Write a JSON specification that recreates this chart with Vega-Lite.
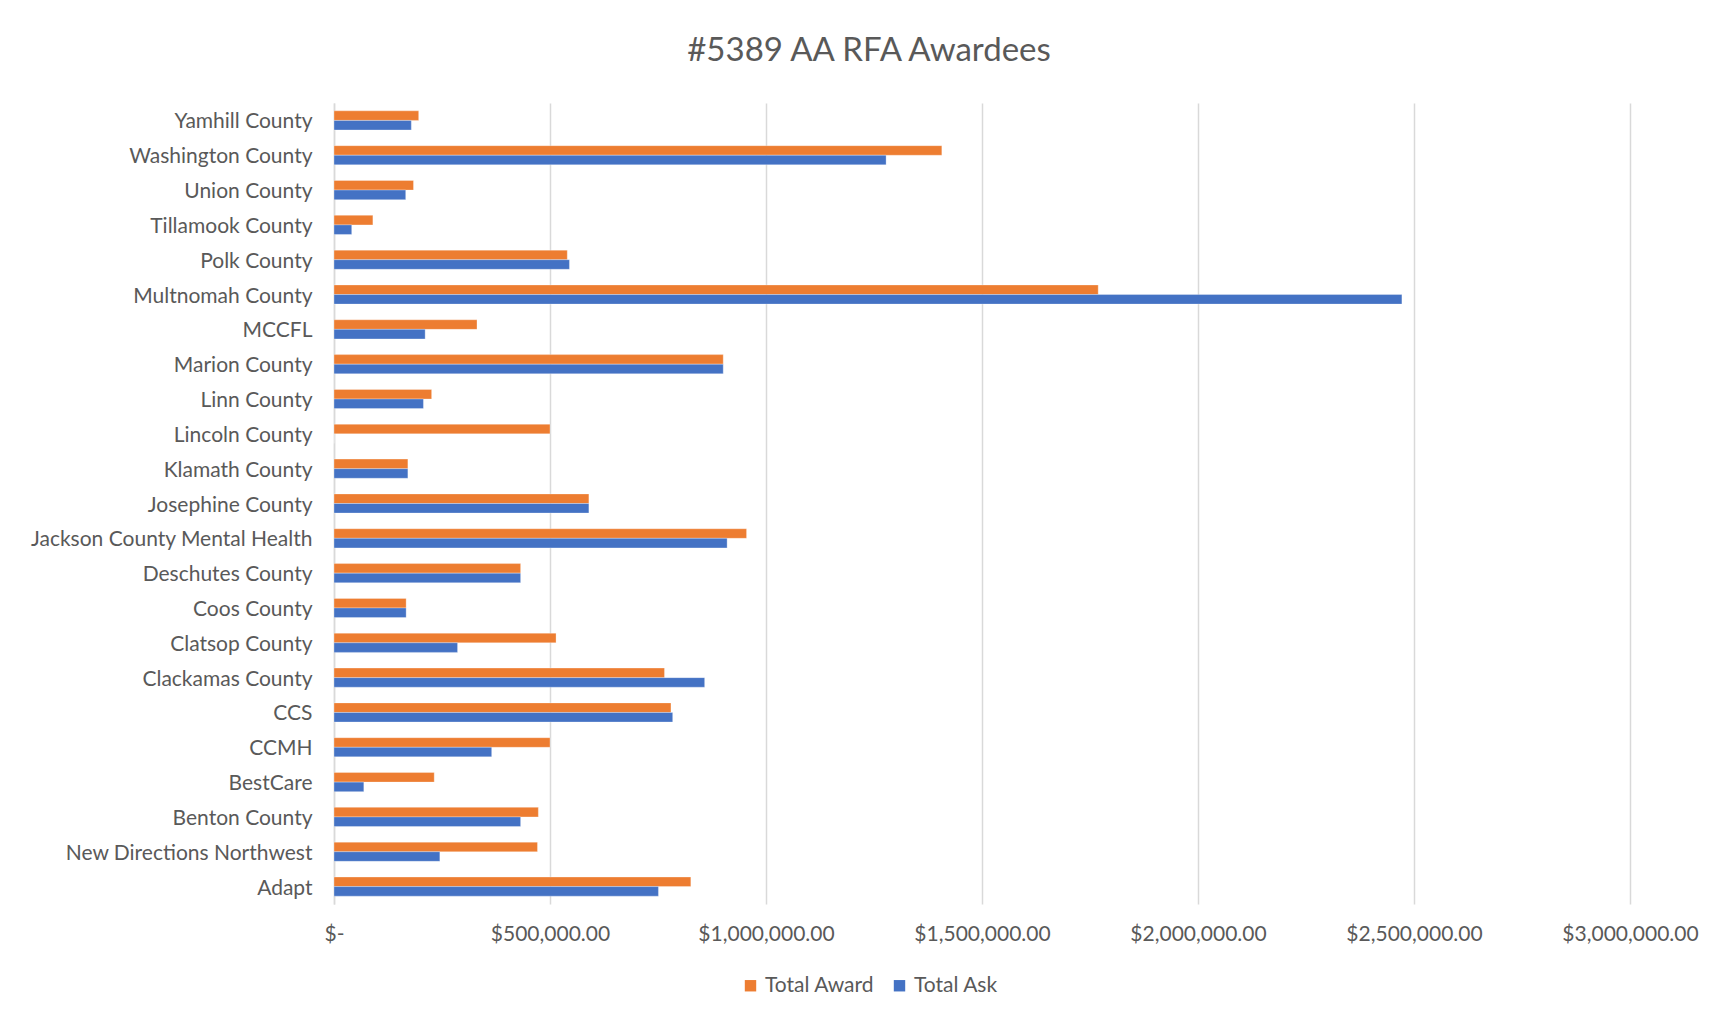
{
  "$schema": "https://vega.github.io/schema/vega-lite/v6.json",
  "width": 1296,
  "height": 801,
  "autosize": {"type": "none"},
  "padding": {"left": 334, "top": 103, "right": 106, "bottom": 116},
  "background": "white",
  "title": {
    "text": "#5389 AA RFA Awardees",
    "font": "Lato",
    "fontSize": 33,
    "fontWeight": "normal",
    "color": "#595959",
    "anchor": "middle",
    "dx": -113,
    "offset": 35
  },
  "data": {
    "values": [
      {"org": "Yamhill County", "series": "Total Award", "amount": 196000},
      {"org": "Yamhill County", "series": "Total Ask", "amount": 179000},
      {"org": "Washington County", "series": "Total Award", "amount": 1407000},
      {"org": "Washington County", "series": "Total Ask", "amount": 1278000},
      {"org": "Union County", "series": "Total Award", "amount": 184000},
      {"org": "Union County", "series": "Total Ask", "amount": 166000},
      {"org": "Tillamook County", "series": "Total Award", "amount": 90000},
      {"org": "Tillamook County", "series": "Total Ask", "amount": 41000},
      {"org": "Polk County", "series": "Total Award", "amount": 540000},
      {"org": "Polk County", "series": "Total Ask", "amount": 545000},
      {"org": "Multnomah County", "series": "Total Award", "amount": 1769000},
      {"org": "Multnomah County", "series": "Total Ask", "amount": 2472000},
      {"org": "MCCFL", "series": "Total Award", "amount": 331000},
      {"org": "MCCFL", "series": "Total Ask", "amount": 211000},
      {"org": "Marion County", "series": "Total Award", "amount": 901000},
      {"org": "Marion County", "series": "Total Ask", "amount": 901000},
      {"org": "Linn County", "series": "Total Award", "amount": 226000},
      {"org": "Linn County", "series": "Total Ask", "amount": 207000},
      {"org": "Lincoln County", "series": "Total Award", "amount": 500000},
      {"org": "Lincoln County", "series": "Total Ask", "amount": 0},
      {"org": "Klamath County", "series": "Total Award", "amount": 171000},
      {"org": "Klamath County", "series": "Total Ask", "amount": 171000},
      {"org": "Josephine County", "series": "Total Award", "amount": 590000},
      {"org": "Josephine County", "series": "Total Ask", "amount": 590000},
      {"org": "Jackson County Mental Health", "series": "Total Award", "amount": 955000},
      {"org": "Jackson County Mental Health", "series": "Total Ask", "amount": 910000},
      {"org": "Deschutes County", "series": "Total Award", "amount": 432000},
      {"org": "Deschutes County", "series": "Total Ask", "amount": 432000},
      {"org": "Coos County", "series": "Total Award", "amount": 167000},
      {"org": "Coos County", "series": "Total Ask", "amount": 167000},
      {"org": "Clatsop County", "series": "Total Award", "amount": 514000},
      {"org": "Clatsop County", "series": "Total Ask", "amount": 286000},
      {"org": "Clackamas County", "series": "Total Award", "amount": 765000},
      {"org": "Clackamas County", "series": "Total Ask", "amount": 858000},
      {"org": "CCS", "series": "Total Award", "amount": 780000},
      {"org": "CCS", "series": "Total Ask", "amount": 784000},
      {"org": "CCMH", "series": "Total Award", "amount": 500000},
      {"org": "CCMH", "series": "Total Ask", "amount": 365000},
      {"org": "BestCare", "series": "Total Award", "amount": 232000},
      {"org": "BestCare", "series": "Total Ask", "amount": 69000},
      {"org": "Benton County", "series": "Total Award", "amount": 473000},
      {"org": "Benton County", "series": "Total Ask", "amount": 432000},
      {"org": "New Directions Northwest", "series": "Total Award", "amount": 471000},
      {"org": "New Directions Northwest", "series": "Total Ask", "amount": 245000},
      {"org": "Adapt", "series": "Total Award", "amount": 826000},
      {"org": "Adapt", "series": "Total Ask", "amount": 751000}
    ]
  },
  "mark": {"type": "bar", "stroke": "white", "strokeWidth": 0.5, "strokeOpacity": 0.6},
  "encoding": {
    "y": {
      "field": "org",
      "type": "nominal",
      "sort": null,
      "scale": {"paddingInner": 0.45, "paddingOuter": 0.225},
      "axis": {
        "title": null,
        "ticks": false,
        "domain": true,
        "domainColor": "#d9d9d9",
        "domainWidth": 1.5,
        "labelFont": "Lato",
        "labelFontSize": 21,
        "labelColor": "#595959",
        "labelPadding": 22,
        "labelOffset": 2,
        "labelLimit": 400
      }
    },
    "yOffset": {
      "field": "series",
      "type": "nominal",
      "sort": ["Total Award", "Total Ask"],
      "scale": {"paddingInner": 0, "paddingOuter": 0}
    },
    "x": {
      "field": "amount",
      "type": "quantitative",
      "scale": {"domain": [0, 3000000]},
      "axis": {
        "title": null,
        "values": [0, 500000, 1000000, 1500000, 2000000, 2500000, 3000000],
        "labelExpr": "datum.value == 0 ? '$-' : '$' + format(datum.value, ',.2f')",
        "labelFlush": false,
        "labelBound": false,
        "labelOverlap": false,
        "ticks": false,
        "domain": false,
        "grid": true,
        "gridColor": "#d9d9d9",
        "gridWidth": 1.5,
        "labelFont": "Lato",
        "labelFontSize": 21,
        "labelColor": "#595959",
        "labelPadding": 19
      }
    },
    "color": {
      "field": "series",
      "type": "nominal",
      "sort": ["Total Award", "Total Ask"],
      "scale": {"domain": ["Total Award", "Total Ask"], "range": ["#ED7D31", "#4472C4"]},
      "legend": {
        "title": null,
        "orient": "none",
        "direction": "horizontal",
        "legendX": 406,
        "legendY": 872,
        "symbolType": "square",
        "symbolSize": 130,
        "symbolStrokeWidth": 0,
        "labelFont": "Lato",
        "labelFontSize": 21,
        "labelColor": "#595959",
        "columnPadding": 14,
        "labelOffset": 4
      }
    }
  },
  "config": {
    "view": {"stroke": null}
  }
}
